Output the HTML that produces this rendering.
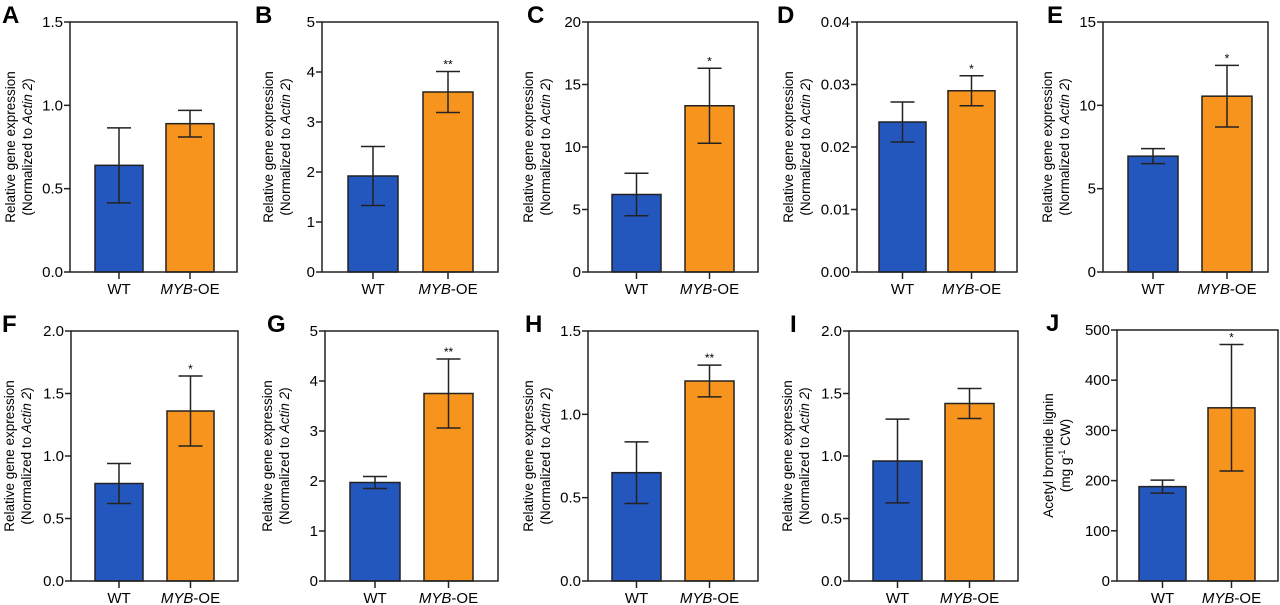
<!DOCTYPE html>
<html><head><meta charset="utf-8">
<style>
html,body{margin:0;padding:0;background:#fff;}
svg{display:block;font-family:"Liberation Sans",Arial,sans-serif;}
</style></head>
<body>
<svg id="fig" width="1280" height="605" viewBox="0 0 1280 605"></svg>
<script>
const panelLetters = ["A","B","C","D","E","F","G","H","I","J"];
const categories = ["WT","MYB-OE"];
const wtValues  = [0.64, 1.92, 6.2, 0.024, 6.95, 0.78, 1.97, 0.65, 0.96, 188];
const wtErr     = [0.225, 0.59, 1.7, 0.0032, 0.45, 0.16, 0.12, 0.185, 0.335, 13];
const mybValues = [0.89, 3.6, 13.3, 0.029, 10.55, 1.36, 3.75, 1.2, 1.42, 345];
const mybErr    = [0.08, 0.41, 3.0, 0.0024, 1.85, 0.28, 0.69, 0.095, 0.12, 126];
const sigMarks  = ["", "**", "*", "*", "*", "*", "**", "**", "", "*"];
const yMax      = [1.5, 5, 20, 0.04, 15, 2.0, 5, 1.5, 2.0, 500];
const yTicks = [
  ["0.0","0.5","1.0","1.5"],
  ["0","1","2","3","4","5"],
  ["0","5","10","15","20"],
  ["0.00","0.01","0.02","0.03","0.04"],
  ["0","5","10","15"],
  ["0.0","0.5","1.0","1.5","2.0"],
  ["0","1","2","3","4","5"],
  ["0.0","0.5","1.0","1.5"],
  ["0.0","0.5","1.0","1.5","2.0"],
  ["0","100","200","300","400","500"]
];

// layout (not data)
const layout = [
  {l:70,r:237,t:22,b:272,w:[95,143],m:[166,214],lx:2,tx:10},
  {l:322,r:498,t:22,b:272,w:[348,398],m:[423,473],lx:255,tx:268},
  {l:588,r:758,t:22,b:272,w:[612,661],m:[685,734],lx:527,tx:528},
  {l:857,r:1017,t:22,b:272,w:[879,926],m:[948,995],lx:777,tx:788},
  {l:1103,r:1268,t:22,b:272,w:[1128,1178],m:[1202,1252],lx:1047,tx:1047},
  {l:71,r:238,t:331,b:581,w:[95,143],m:[167,214],lx:2,tx:9},
  {l:325,r:498,t:331,b:581,w:[350,400],m:[424,473],lx:267,tx:267},
  {l:588,r:758,t:331,b:581,w:[612,661],m:[685,734],lx:525,tx:528},
  {l:849,r:1018,t:331,b:581,w:[873,922],m:[945,994],lx:790,tx:787},
  {l:1117,r:1278,t:330,b:581,w:[1139,1186],m:[1208,1255],lx:1046,tx:1048}
];
const NS="http://www.w3.org/2000/svg";
const svg=document.getElementById('fig');
function mk(tag,attrs,parent){const e=document.createElementNS(NS,tag);for(const k in attrs)e.setAttribute(k,attrs[k]);(parent||svg).appendChild(e);return e;}

for(let i=0;i<10;i++){
  const L=layout[i];
  const g=mk('g',{});
  
  
  const y=v=>L.b-(v/yMax[i])*(L.b-L.t);

  const lab=mk('text',{x:L.lx,y:L.t+1,'font-size':24,'font-weight':'bold'},g);
  lab.textContent=panelLetters[i];
  
  

  const series=[[wtValues[i],wtErr[i],L.w,'#2457bd'],[mybValues[i],mybErr[i],L.m,'#f7941d']];
  series.forEach((s,k)=>{
    const [v,e,xs,col]=s;
    const bar=mk('rect',{x:xs[0],y:y(v),width:xs[1]-xs[0],height:L.b-y(v),fill:col,stroke:'#222','stroke-width':1.5},g);
    
    
    const cx=(xs[0]+xs[1])/2, hw=12;
    const eb=mk('path',{d:`M${cx},${y(v-e)}V${y(v+e)}M${cx-hw},${y(v+e)}H${cx+hw}M${cx-hw},${y(v-e)}H${cx+hw}`,stroke:'#222','stroke-width':1.5,fill:'none'},g);
    
    
    mk('line',{x1:cx,x2:cx,y1:L.b,y2:L.b+7,stroke:'#222','stroke-width':1.5},g);
    const cl=mk('text',{x:cx,y:L.b+22,'font-size':15,'text-anchor':'middle'},g);
    
    
    if(k===0){cl.textContent=categories[0];}
    else{const t1=mk('tspan',{'font-style':'italic'},cl);t1.textContent='MYB';const t2=mk('tspan',{},cl);t2.textContent='-OE';}
    if(k===1 && sigMarks[i]){
      const sm=mk('text',{x:cx,y:y(v+e)-3,'font-size':12,'text-anchor':'middle'},g);
      sm.textContent=sigMarks[i];
      
      
    }
  });

  const fr=mk('rect',{x:L.l,y:L.t,width:L.r-L.l,height:L.b-L.t,fill:'none',stroke:'#222','stroke-width':1.5},g);
  
  

  const n=yTicks[i].length-1;
  yTicks[i].forEach((t,j)=>{
    const yy=y(yMax[i]*j/n);
    mk('line',{x1:L.l-6,x2:L.l,y1:yy,y2:yy,stroke:'#222','stroke-width':1.5},g);
    const tl=mk('text',{x:L.l-7,y:yy+5,'font-size':15,'text-anchor':'end'},g);
    tl.textContent=t;
    
    
  });

  const cy=(L.t+L.b)/2;
  const yt=mk('text',{'font-size':13.5,'text-anchor':'middle',transform:`translate(${L.tx+5},${cy}) rotate(-90)`},g);
  
  
  if(i===9){
    const a=mk('tspan',{x:0,y:0},yt);a.textContent='Acetyl bromide lignin';
    const b=mk('tspan',{x:0,y:17},yt);b.textContent='(mg g';
    const c=mk('tspan',{dy:-5,'font-size':9},yt);c.textContent='-1';
    const d=mk('tspan',{dy:5},yt);d.textContent=' CW)';
  } else {
    const a=mk('tspan',{x:0,y:0},yt);a.textContent='Relative gene expression';
    const b=mk('tspan',{x:0,y:17},yt);b.textContent='(Normalized to ';
    const c=mk('tspan',{'font-style':'italic'},yt);c.textContent='Actin 2';
    const d=mk('tspan',{},yt);d.textContent=')';
  }
}
</script>
</body></html>
